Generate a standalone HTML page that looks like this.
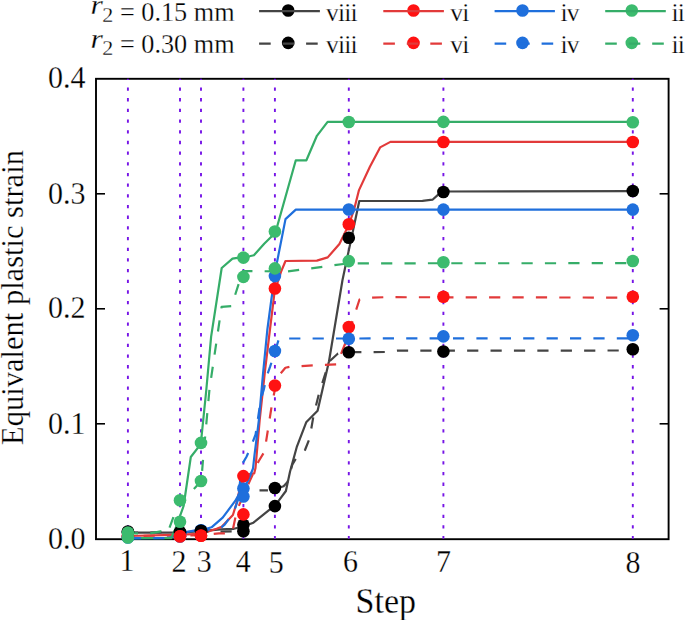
<!DOCTYPE html>
<html><head><meta charset="utf-8"><title>Equivalent plastic strain vs step</title>
<style>
html,body{margin:0;padding:0;background:#fff;overflow:hidden}
svg{display:block}
text{stroke:#fff;stroke-width:0.25px}
</style></head><body>
<svg width="685" height="620" viewBox="0 0 685 620" font-family="Liberation Serif, serif">
<rect x="0" y="0" width="685" height="620" fill="#fff"/>

<rect x="96" y="78.8" width="572.6" height="460.4" fill="none" stroke="#000" stroke-width="1.9"/>
<line x1="96" y1="423.8" x2="105" y2="423.8" stroke="#000" stroke-width="1.6"/>
<line x1="659.6" y1="423.8" x2="668.6" y2="423.8" stroke="#000" stroke-width="1.6"/>
<line x1="96" y1="308.8" x2="105" y2="308.8" stroke="#000" stroke-width="1.6"/>
<line x1="659.6" y1="308.8" x2="668.6" y2="308.8" stroke="#000" stroke-width="1.6"/>
<line x1="96" y1="193.8" x2="105" y2="193.8" stroke="#000" stroke-width="1.6"/>
<line x1="659.6" y1="193.8" x2="668.6" y2="193.8" stroke="#000" stroke-width="1.6"/>
<line x1="127.9" y1="538.8" x2="127.9" y2="78.8" stroke="#7614e6" stroke-width="1.9" stroke-dasharray="3.3 7.38" stroke-dashoffset="0.5"/>
<line x1="180.0" y1="538.8" x2="180.0" y2="78.8" stroke="#7614e6" stroke-width="1.9" stroke-dasharray="3.3 7.38" stroke-dashoffset="0.5"/>
<line x1="201.0" y1="538.8" x2="201.0" y2="78.8" stroke="#7614e6" stroke-width="1.9" stroke-dasharray="3.3 7.38" stroke-dashoffset="0.5"/>
<line x1="243.4" y1="538.8" x2="243.4" y2="78.8" stroke="#7614e6" stroke-width="1.9" stroke-dasharray="3.3 7.38" stroke-dashoffset="0.5"/>
<line x1="274.9" y1="538.8" x2="274.9" y2="78.8" stroke="#7614e6" stroke-width="1.9" stroke-dasharray="3.3 7.38" stroke-dashoffset="0.5"/>
<line x1="348.8" y1="538.8" x2="348.8" y2="78.8" stroke="#7614e6" stroke-width="1.9" stroke-dasharray="3.3 7.38" stroke-dashoffset="0.5"/>
<line x1="443.4" y1="538.8" x2="443.4" y2="78.8" stroke="#7614e6" stroke-width="1.9" stroke-dasharray="3.3 7.38" stroke-dashoffset="0.5"/>
<line x1="632.8" y1="538.8" x2="632.8" y2="78.8" stroke="#7614e6" stroke-width="1.9" stroke-dasharray="3.3 7.38" stroke-dashoffset="0.5"/>
<polyline points="127.8,532.6 180.0,532.6 201.0,531.2 220.7,529.4 233.9,528.8 238.0,527.8 243.3,526.4 253.4,522.7 269.0,510.2 274.9,506.1 279.5,499.7 285.9,491.0 290.0,471.7 296.7,447.2 306.2,422.3 317.6,410.8 329.0,361.3 342.5,280.0 359.3,201.0 422.5,200.8 432.5,199.7 438.2,194.6 443.3,191.5 632.8,191.2" fill="none" stroke="#444444" stroke-width="2.2" stroke-linejoin="round"/>
<polyline points="127.8,536.0 173.0,534.8 201.0,533.8 206.9,531.9 216.6,528.8 221.7,526.8 232.9,515.0 236.0,505.0 240.0,488.0 243.3,477.0 249.0,474.2 254.2,473.4 255.5,468.0 259.7,420.0 265.1,369.9 269.9,330.0 274.6,291.7 280.9,272.2 285.5,261.0 316.9,260.6 327.7,257.4 339.4,244.0 345.4,231.8 348.9,225.0 354.6,207.6 359.0,190.1 369.9,166.7 380.1,147.4 390.4,141.9 632.8,141.9" fill="none" stroke="#e23a3a" stroke-width="2.2" stroke-linejoin="round"/>
<polyline points="127.8,532.8 243.3,531.3" fill="none" stroke="#444444" stroke-width="2.2" stroke-linejoin="round" stroke-dasharray="11.2 12.2" stroke-dashoffset="0.90"/>
<polyline points="259.5,490.4 270.0,490.4 274.9,489.0 283.6,486.3 287.5,482.0 292.3,464.7 297.4,455.9 305.0,450.0 309.6,438.4 313.5,415.8 319.3,392.2 326.4,370.3 328.8,362.0 338.0,353.5 348.8,352.2 385.0,352.0 397.0,350.7 632.8,350.5" fill="none" stroke="#444444" stroke-width="2.2" stroke-linejoin="round" stroke-dasharray="11.2 12.2" stroke-dashoffset="2.76"/>
<polyline points="127.8,536.0 201.0,535.2 219.0,533.4 232.0,533.4 237.0,510.0 248.0,485.0 258.5,461.5 264.5,451.5 272.0,404.0 274.8,390.0 280.5,373.5 285.4,367.8 290.4,366.7 314.0,365.4 337.0,364.4 341.0,354.0 345.0,344.0 359.5,299.5 365.0,298.0 384.0,297.2 632.8,297.6" fill="none" stroke="#e23a3a" stroke-width="2.2" stroke-linejoin="round" stroke-dasharray="11.2 12.2" stroke-dashoffset="7.62"/>
<polyline points="127.8,538.3 165.0,538.0 180.0,536.0 186.9,531.8 194.2,530.7 201.0,529.6 206.4,528.8 211.5,527.3 222.7,517.6 235.0,501.2 238.0,496.1 243.3,490.0 249.2,478.0 253.0,468.5 254.5,455.0 258.9,420.0 262.9,375.0 267.3,330.0 271.3,299.9 276.8,263.2 285.5,219.1 295.8,209.6 632.8,209.6" fill="none" stroke="#1f6fdc" stroke-width="2.2" stroke-linejoin="round"/>
<polyline points="127.8,538.2 171.0,538.2 175.0,530.0 183.6,506.0 190.8,457.0 199.4,445.8 200.9,442.9 206.3,390.0 211.1,336.8 221.7,268.0 232.5,258.6 237.4,257.8 243.3,257.5 249.5,256.3 253.9,255.3 264.2,243.8 271.3,236.8 274.9,231.6 277.5,225.3 295.8,160.3 306.4,160.3 316.9,135.8 327.6,121.9 632.8,121.9" fill="none" stroke="#35ad68" stroke-width="2.2" stroke-linejoin="round"/>
<polyline points="127.8,538.2 175.0,538.0 190.0,531.0 219.6,528.8 224.7,524.7 233.9,511.5 238.0,500.0 242.0,464.5 246.5,456.8 251.6,445.0 255.6,434.5 260.8,399.4 264.0,388.9 266.5,376.8 270.2,366.4 275.5,350.0 279.0,338.5 632.8,338.4" fill="none" stroke="#1f6fdc" stroke-width="2.2" stroke-linejoin="round" stroke-dasharray="11.2 12.2" stroke-dashoffset="21.28"/>
<polyline points="127.8,533.2 150.0,533.4 160.7,531.4 167.5,533.0 174.0,515.5 179.8,502.0 191.6,491.3 201.3,481.0" fill="none" stroke="#35ad68" stroke-width="2.2" stroke-linejoin="round" stroke-dasharray="11.2 12.2" stroke-dashoffset="0.92"/>
<polyline points="201.3,481.0 203.0,460.0 209.5,389.0 221.6,306.8 231.6,306.0 242.8,271.0 287.0,271.5 348.8,263.3 632.8,263.2" fill="none" stroke="#35ad68" stroke-width="2.2" stroke-linejoin="round" stroke-dasharray="11.2 12.2" stroke-dashoffset="13.32"/>
<circle cx="127.9" cy="537.3" r="6.3" fill="#1f6fdc"/>
<circle cx="127.9" cy="537.3" r="6.3" fill="#1f6fdc"/>
<circle cx="127.9" cy="532.2" r="6.3" fill="#000000"/>
<circle cx="127.9" cy="531.5" r="6.3" fill="#000000"/>
<circle cx="127.9" cy="536.6" r="6.3" fill="#ff1212"/>
<circle cx="127.9" cy="535.5" r="6.3" fill="#ff1212"/>
<circle cx="127.9" cy="532.6" r="6.3" fill="#3cbb6e"/>
<circle cx="127.9" cy="537.5" r="6.3" fill="#3cbb6e"/>
<circle cx="180.0" cy="536.0" r="6.3" fill="#1f6fdc"/>
<circle cx="180.0" cy="536.5" r="6.3" fill="#1f6fdc"/>
<circle cx="180.0" cy="532.5" r="6.3" fill="#000000"/>
<circle cx="180.0" cy="532.0" r="6.3" fill="#000000"/>
<circle cx="180.0" cy="536.2" r="6.3" fill="#ff1212"/>
<circle cx="180.0" cy="536.2" r="6.3" fill="#ff1212"/>
<circle cx="180.0" cy="521.8" r="6.3" fill="#3cbb6e"/>
<circle cx="180.0" cy="500.3" r="6.3" fill="#3cbb6e"/>
<circle cx="201.0" cy="530.3" r="6.3" fill="#1f6fdc"/>
<circle cx="201.0" cy="530.5" r="6.3" fill="#1f6fdc"/>
<circle cx="201.0" cy="530.8" r="6.3" fill="#000000"/>
<circle cx="201.0" cy="531.0" r="6.3" fill="#000000"/>
<circle cx="201.0" cy="535.6" r="6.3" fill="#ff1212"/>
<circle cx="201.0" cy="535.7" r="6.3" fill="#ff1212"/>
<circle cx="201.0" cy="481.0" r="6.3" fill="#3cbb6e"/>
<circle cx="201.0" cy="442.9" r="6.3" fill="#3cbb6e"/>
<circle cx="243.4" cy="488.5" r="6.3" fill="#1f6fdc"/>
<circle cx="243.4" cy="496.5" r="6.3" fill="#1f6fdc"/>
<circle cx="243.4" cy="524.8" r="6.3" fill="#000000"/>
<circle cx="243.4" cy="531.3" r="6.3" fill="#000000"/>
<circle cx="243.4" cy="514.4" r="6.3" fill="#ff1212"/>
<circle cx="243.4" cy="476.1" r="6.3" fill="#ff1212"/>
<circle cx="243.4" cy="276.9" r="6.3" fill="#3cbb6e"/>
<circle cx="243.4" cy="257.6" r="6.3" fill="#3cbb6e"/>
<circle cx="274.9" cy="276.1" r="6.3" fill="#1f6fdc"/>
<circle cx="274.9" cy="351.0" r="6.3" fill="#1f6fdc"/>
<circle cx="274.9" cy="506.1" r="6.3" fill="#000000"/>
<circle cx="274.9" cy="488.0" r="6.3" fill="#000000"/>
<circle cx="274.9" cy="385.5" r="6.3" fill="#ff1212"/>
<circle cx="274.9" cy="288.5" r="6.3" fill="#ff1212"/>
<circle cx="274.9" cy="268.4" r="6.3" fill="#3cbb6e"/>
<circle cx="274.9" cy="231.5" r="6.3" fill="#3cbb6e"/>
<circle cx="348.8" cy="224.3" r="6.3" fill="#ff1212"/>
<circle cx="348.8" cy="327.0" r="6.3" fill="#ff1212"/>
<circle cx="348.8" cy="209.5" r="6.3" fill="#1f6fdc"/>
<circle cx="348.8" cy="338.8" r="6.3" fill="#1f6fdc"/>
<circle cx="348.8" cy="237.8" r="6.3" fill="#000000"/>
<circle cx="348.8" cy="352.2" r="6.3" fill="#000000"/>
<circle cx="348.8" cy="122.0" r="6.3" fill="#3cbb6e"/>
<circle cx="348.8" cy="261.1" r="6.3" fill="#3cbb6e"/>
<circle cx="443.4" cy="142.0" r="6.3" fill="#ff1212"/>
<circle cx="443.4" cy="296.7" r="6.3" fill="#ff1212"/>
<circle cx="443.4" cy="209.6" r="6.3" fill="#1f6fdc"/>
<circle cx="443.4" cy="336.4" r="6.3" fill="#1f6fdc"/>
<circle cx="443.4" cy="192.0" r="6.3" fill="#000000"/>
<circle cx="443.4" cy="351.5" r="6.3" fill="#000000"/>
<circle cx="443.4" cy="121.9" r="6.3" fill="#3cbb6e"/>
<circle cx="443.4" cy="262.2" r="6.3" fill="#3cbb6e"/>
<circle cx="632.8" cy="142.0" r="6.3" fill="#ff1212"/>
<circle cx="632.8" cy="296.7" r="6.3" fill="#ff1212"/>
<circle cx="632.8" cy="209.6" r="6.3" fill="#1f6fdc"/>
<circle cx="632.8" cy="335.2" r="6.3" fill="#1f6fdc"/>
<circle cx="632.8" cy="191.0" r="6.3" fill="#000000"/>
<circle cx="632.8" cy="349.2" r="6.3" fill="#000000"/>
<circle cx="632.8" cy="122.2" r="6.3" fill="#3cbb6e"/>
<circle cx="632.8" cy="261.0" r="6.3" fill="#3cbb6e"/>
<text transform="translate(85.5,548.9) scale(1,1.065)" font-size="30" text-anchor="end">0.0</text>
<text transform="translate(85.5,433.9) scale(1,1.065)" font-size="30" text-anchor="end">0.1</text>
<text transform="translate(85.5,318.3) scale(1,1.065)" font-size="30" text-anchor="end">0.2</text>
<text transform="translate(85.5,203.6) scale(1,1.065)" font-size="30" text-anchor="end">0.3</text>
<text transform="translate(85.5,88.3) scale(1,1.065)" font-size="30" text-anchor="end">0.4</text>
<text transform="translate(127.0,570.7) scale(1,1.075)" font-size="30" text-anchor="middle">1</text>
<text transform="translate(179.1,571.5) scale(1,1.075)" font-size="30" text-anchor="middle">2</text>
<text transform="translate(204.3,572.4) scale(1,1.075)" font-size="30" text-anchor="middle">3</text>
<text transform="translate(243.3,571.5) scale(1,1.075)" font-size="30" text-anchor="middle">4</text>
<text transform="translate(276.3,572.7) scale(1,1.075)" font-size="30" text-anchor="middle">5</text>
<text transform="translate(350.5,571.8) scale(1,1.075)" font-size="30" text-anchor="middle">6</text>
<text transform="translate(443.6,572.3) scale(1,1.075)" font-size="30" text-anchor="middle">7</text>
<text transform="translate(633.0,573.3) scale(1,1.075)" font-size="30" text-anchor="middle">8</text>
<text transform="translate(385.8,612.6) scale(1,1.06)" font-size="34" text-anchor="middle">Step</text>
<text transform="translate(22.5,297.5) rotate(-90)" font-size="30.5" text-anchor="middle">Equivalent plastic strain</text>
<text transform="translate(90.6,14.3) scale(1.14,1.0)" font-size="27.8" font-style="italic">r</text>
<text transform="translate(102.3,22.2) scale(1.05,1.04)" font-size="21">2</text>
<text transform="translate(120,20.8) scale(0.99,1.04)" font-size="26.5">= 0.15 mm</text>
<text transform="translate(90.6,47.8) scale(1.14,1.0)" font-size="27.8" font-style="italic">r</text>
<text transform="translate(102.3,54.5) scale(1.05,1.04)" font-size="21">2</text>
<text transform="translate(120,53.1) scale(0.99,1.04)" font-size="26.5">= 0.30 mm</text>
<circle cx="288.2" cy="10.5" r="6.3" fill="#000000"/>
<line x1="259.1" y1="11.2" x2="319.9" y2="11.2" stroke="#444444" stroke-width="2.2"/>
<text x="326.0" y="20.5" font-size="25.5" letter-spacing="-0.8">viii</text>
<circle cx="413.5" cy="10.5" r="6.3" fill="#ff1212"/>
<line x1="383.3" y1="11.2" x2="443.9" y2="11.2" stroke="#e23a3a" stroke-width="2.2"/>
<text x="450.2" y="20.5" font-size="25.5" letter-spacing="-0.8">vi</text>
<circle cx="522.5" cy="10.5" r="6.3" fill="#1f6fdc"/>
<line x1="494.6" y1="11.2" x2="554.9" y2="11.2" stroke="#1f6fdc" stroke-width="2.2"/>
<text x="560.4" y="20.5" font-size="25.5" letter-spacing="-0.8">iv</text>
<circle cx="631.8" cy="10.5" r="6.3" fill="#3cbb6e"/>
<line x1="605.2" y1="11.2" x2="665.8" y2="11.2" stroke="#35ad68" stroke-width="2.2"/>
<text x="671.4" y="20.5" font-size="25.5" letter-spacing="-0.8">ii</text>
<circle cx="288.2" cy="42.9" r="6.3" fill="#000000"/>
<line x1="259.1" y1="43.6" x2="319.9" y2="43.6" stroke="#444444" stroke-width="2.2" stroke-dasharray="11.6 11.9"/>
<text x="326.0" y="53.0" font-size="25.5" letter-spacing="-0.8">viii</text>
<circle cx="413.5" cy="42.9" r="6.3" fill="#ff1212"/>
<line x1="383.3" y1="43.6" x2="443.9" y2="43.6" stroke="#e23a3a" stroke-width="2.2" stroke-dasharray="11.6 11.9"/>
<text x="450.2" y="53.0" font-size="25.5" letter-spacing="-0.8">vi</text>
<circle cx="522.5" cy="42.9" r="6.3" fill="#1f6fdc"/>
<line x1="494.6" y1="43.6" x2="554.9" y2="43.6" stroke="#1f6fdc" stroke-width="2.2" stroke-dasharray="11.6 11.9"/>
<text x="560.4" y="53.0" font-size="25.5" letter-spacing="-0.8">iv</text>
<circle cx="631.8" cy="42.9" r="6.3" fill="#3cbb6e"/>
<line x1="605.2" y1="43.6" x2="665.8" y2="43.6" stroke="#35ad68" stroke-width="2.2" stroke-dasharray="11.6 11.9"/>
<text x="671.4" y="53.0" font-size="25.5" letter-spacing="-0.8">ii</text>
</svg></body></html>
